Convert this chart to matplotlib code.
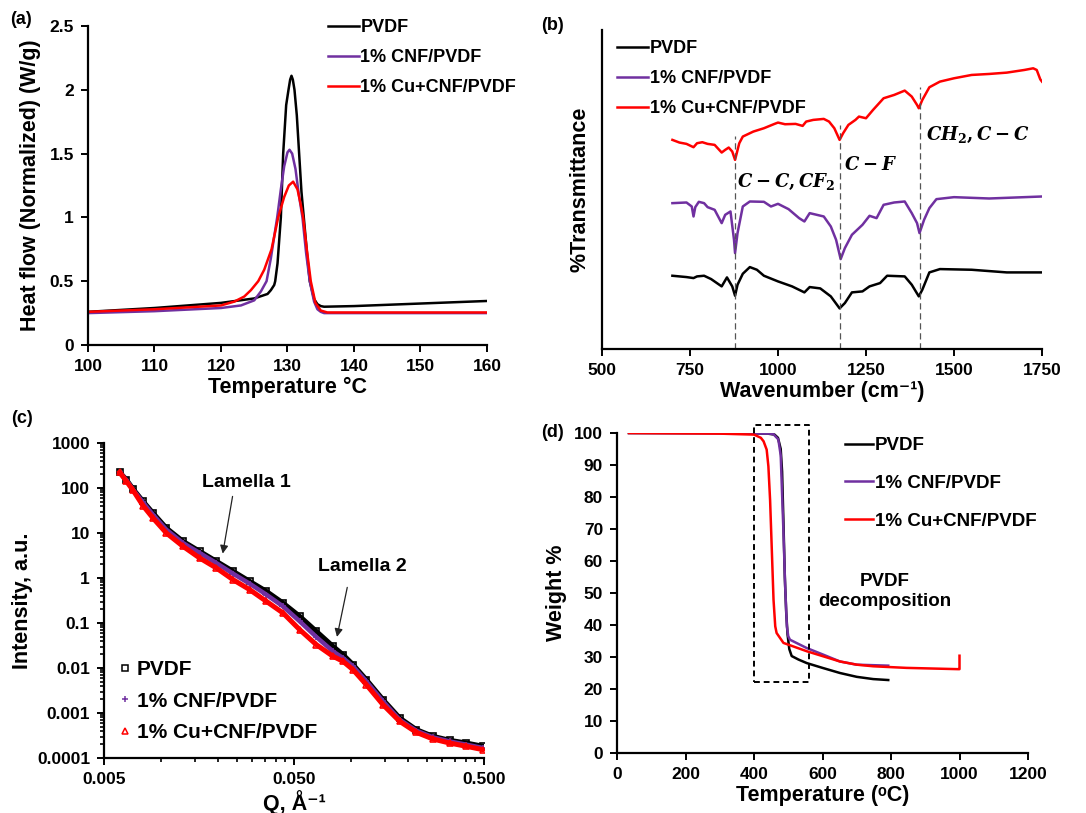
import numpy as np
import matplotlib
matplotlib.use("Agg")
import matplotlib.pyplot as plt
from matplotlib.lines import Line2D
from matplotlib.ticker import FixedLocator, NullFormatter

plt.rcParams['font.family'] = ['Liberation Sans', 'DejaVu Sans']
plt.rcParams['font.weight'] = 'bold'
plt.rcParams['axes.labelweight'] = 'bold'
plt.rcParams['mathtext.fontset'] = 'custom'
plt.rcParams['mathtext.it'] = 'DejaVu Serif:italic:bold'
plt.rcParams['mathtext.rm'] = 'DejaVu Serif:bold'

black = "#000000"
purple = "#7030A0"
red = "#FF0000"
labels = ["PVDF", "1% CNF/PVDF", "1% Cu+CNF/PVDF"]

# (a) DSC
dsc_T_pvdf = [100, 110, 120, 125, 127, 127.5, 128, 128.15, 128.5, 129, 129.35, 129.8, 130.15, 130.4, 130.6, 130.8,
              131.05, 131.4, 131.75, 132.1, 132.45, 133, 133.35, 134, 134.5, 135, 135.5, 140, 150, 160]
dsc_pvdf = [0.26, 0.29, 0.33, 0.365, 0.40, 0.43, 0.47, 0.50, 0.64, 1.0, 1.5, 1.88, 2.0, 2.08, 2.11, 2.08,
            2.0, 1.8, 1.5, 1.2, 1.0, 0.68, 0.5, 0.36, 0.32, 0.305, 0.30, 0.305, 0.325, 0.345]
dsc_T_cnf = [100, 110, 120, 123, 125, 126, 126.85, 127.5, 128, 128.45, 129, 129.5, 130, 130.3, 130.7, 131.2,
             131.7, 132.25, 132.8, 133.35, 134, 134.5, 135, 135.5, 145, 160]
dsc_cnf = [0.25, 0.265, 0.29, 0.31, 0.35, 0.42, 0.5, 0.68, 0.85, 1.0, 1.22, 1.4, 1.51, 1.53, 1.5, 1.38,
           1.18, 1.0, 0.72, 0.5, 0.34, 0.28, 0.26, 0.25, 0.25, 0.25]
dsc_T_cu = [100, 110, 120, 122, 123.5, 124.5, 125.6, 126.5, 127.6, 128.6, 129.5, 130.2, 130.85, 131.5, 132,
            132.35, 132.9, 133.5, 134.2, 135, 136, 145, 160]
dsc_cu = [0.26, 0.28, 0.31, 0.34, 0.38, 0.43, 0.5, 0.59, 0.75, 1.0, 1.16, 1.25, 1.28, 1.22, 1.1,
          1.0, 0.75, 0.5, 0.33, 0.27, 0.255, 0.255, 0.255]

# (b) FTIR (arbitrary transmittance units)
ir_x_cu = [700, 720, 740, 760, 770, 785, 800, 820, 840, 850, 860, 870, 878, 890, 900, 930, 960, 990, 1000, 1020,
           1050, 1070, 1080, 1100, 1130, 1145, 1160, 1175, 1185, 1200, 1220, 1230, 1250, 1270, 1300, 1330, 1360,
           1380, 1395, 1400, 1410, 1430, 1460, 1500, 1550, 1600, 1650, 1700, 1725, 1735, 1745, 1750]
ir_cu = [62.8, 62.0, 61.6, 60.6, 61.8, 62.1, 61.6, 61.3, 59.0, 59.8, 60.5, 59.3, 56.8, 61.8, 63.8, 65.3, 66.3, 67.6,
         68.0, 67.5, 67.6, 67.0, 68.3, 68.8, 69.1, 68.3, 66.3, 62.8, 64.8, 67.3, 68.8, 69.8, 69.3, 71.8, 75.3, 76.3,
         77.6, 75.8, 73.3, 72.3, 74.8, 78.6, 80.3, 81.3, 82.3, 82.6, 83.0, 83.8, 84.3, 83.8, 81.0, 80.3]
ir_x_cnf = [700, 740, 755, 760, 765, 775, 790, 800, 820, 840, 850, 865, 875, 878, 885, 900, 920, 960, 980, 1000,
            1030, 1060, 1075, 1090, 1130, 1150, 1165, 1178, 1190, 1210, 1240, 1260, 1280, 1300, 1330, 1360, 1380,
            1395, 1402, 1415, 1430, 1450, 1500, 1600, 1700, 1750]
ir_cnf = [43.8, 44.0, 42.8, 39.8, 42.6, 44.2, 43.8, 42.6, 41.8, 37.8, 40.3, 41.3, 32.8, 28.8, 34.8, 42.8, 44.3, 44.2,
          42.8, 43.6, 42.0, 39.3, 38.3, 40.8, 39.8, 36.8, 32.8, 27.0, 30.3, 34.3, 37.3, 40.0, 39.3, 43.3, 44.0, 44.3,
          40.8, 37.8, 34.8, 38.8, 42.3, 45.0, 45.6, 45.2, 45.6, 45.8]
ir_x_pvdf = [700, 740, 760, 770, 790, 810, 840, 855, 870, 878, 885, 900, 920, 940, 960, 1000, 1040, 1075, 1090,
             1120, 1150, 1175, 1190, 1210, 1240, 1260, 1290, 1310, 1360, 1380, 1400, 1410, 1430, 1460, 1550, 1650, 1750]
ir_pvdf = [22.0, 21.6, 21.3, 21.8, 22.0, 21.0, 18.8, 21.5, 18.8, 16.0, 19.3, 22.6, 24.6, 23.8, 22.0, 20.3, 18.8,
           17.0, 18.6, 18.2, 15.8, 12.2, 13.8, 17.0, 17.3, 18.8, 19.8, 22.0, 21.8, 19.3, 15.8, 17.8, 23.0, 24.0,
           23.8, 23.0, 23.0]
ir_peaks = [878, 1176, 1403]
ir_peak_tops = [64.0, 67.3, 78.6]

# (c) SAXS
q_vals = [0.00605, 0.00656, 0.00711, 0.00802, 0.00905, 0.01064, 0.01302, 0.01594, 0.01951, 0.02388, 0.02922,
          0.03576, 0.04376, 0.05356, 0.06555, 0.0802, 0.0905, 0.1022, 0.1201, 0.1470, 0.1799, 0.2202, 0.2695,
          0.3298, 0.4036, 0.494]
saxs_pvdf = [223, 153, 95, 50.6, 27.8, 12.9, 6.53, 3.91, 2.35, 1.41, 0.843, 0.506, 0.278, 0.141, 0.0653, 0.0303,
             0.0198, 0.0119, 0.00551, 0.00198, 0.000774, 0.000427, 0.000303, 0.000247, 0.000215, 0.000182]
saxs_cnf = [223, 150, 91.8, 48, 25.6, 11.9, 6.0, 3.6, 2.15, 1.25, 0.748, 0.427, 0.234, 0.109, 0.0489, 0.0234,
            0.0167, 0.0109, 0.00506, 0.00182, 0.000711, 0.000405, 0.000288, 0.000234, 0.000198, 0.000167]
saxs_cu = [223, 141, 88.8, 40.5, 21.5, 10.0, 5.06, 2.78, 1.67, 0.918, 0.551, 0.303, 0.167, 0.0711, 0.0330, 0.0182,
           0.0141, 0.00918, 0.00427, 0.00153, 0.000653, 0.000372, 0.000264, 0.000215, 0.000182, 0.000153]

# (d) TGA
tga_T_pvdf = [35, 300, 440, 460, 470, 478, 482, 486, 490, 494, 498, 503, 510, 530, 554, 600, 651, 700, 748, 792]
tga_pvdf = [100, 100, 99.8, 99.5, 98.5, 95, 88, 72, 55, 44, 37, 32.5, 30.3, 29.2, 28.1, 26.6, 25.0, 23.8, 23.1, 22.8]
tga_T_cnf = [35, 300, 447, 457, 471, 478, 481, 486, 491, 496, 500, 505, 554, 603, 651, 700, 792]
tga_cnf = [100, 99.9, 99.8, 99.6, 98, 93, 84, 69, 52, 39.6, 36.5, 35.4, 32.8, 30.7, 28.6, 27.6, 27.3]
tga_T_cu = [35, 300, 400, 420, 428, 437, 442, 447, 452, 457, 462, 466, 486, 554, 651, 700, 748, 845, 996, 1000, 1000]
tga_cu = [100, 99.8, 99.5, 98.5, 97.4, 94.8, 89.6, 79, 63.5, 47.9, 39.6, 37.5, 34.4, 31.8, 28.6, 27.6, 27.1, 26.6,
          26.2, 26.2, 30.4]

W, H = 1086, 813
fig = plt.figure(figsize=(W / 100, H / 100), dpi=100)


def px_axes(left, top, right, bottom):
    return fig.add_axes([left / W, 1 - bottom / H, (right - left) / W, (bottom - top) / H])


def style(ax):
    for s in ["top", "right"]:
        ax.spines[s].set_visible(False)
    for s in ["left", "bottom"]:
        ax.spines[s].set_linewidth(1.6)
    ax.tick_params(which="major", direction="out", length=5, width=1.4, labelsize=12.5, pad=5)
    ax.tick_params(which="minor", direction="out", length=3, width=1.2)


lw = 1.8
label_fs = 15.5
panel_fs = 13

# ---- (a)
ax = px_axes(88, 26, 487, 345)
style(ax)
ax.plot(dsc_T_pvdf, dsc_pvdf, color=black, lw=lw, label=labels[0])
ax.plot(dsc_T_cnf, dsc_cnf, color=purple, lw=lw, label=labels[1])
ax.plot(dsc_T_cu, dsc_cu, color=red, lw=lw, label=labels[2])
ax.set_xlim(100, 160)
ax.set_ylim(0, 2.5)
ax.set_xticks(range(100, 161, 10))
ax.set_yticks([0, 0.5, 1, 1.5, 2, 2.5])
ax.set_yticklabels(["0", "0.5", "1", "1.5", "2", "2.5"])
ax.set_xlabel("Temperature °C", fontsize=label_fs, labelpad=2)
ax.set_ylabel("Heat flow (Normalized) (W/g)", fontsize=label_fs, labelpad=6)
ax.legend(loc="upper left", bbox_to_anchor=(328 / W, 1 - 19 / H), bbox_transform=fig.transFigure,
          frameon=False, fontsize=13, handlelength=1.7, handletextpad=0.1, labelspacing=0.72, borderpad=0,
          borderaxespad=0)
fig.text(21 / W, 1 - 20 / H, "(a)", fontsize=panel_fs, ha="center", va="center")

# ---- (b)
ax = px_axes(602, 30, 1042, 349)
style(ax)
ax.plot(ir_x_pvdf, ir_pvdf, color=black, lw=lw, label=labels[0])
ax.plot(ir_x_cnf, ir_cnf, color=purple, lw=lw, label=labels[1])
ax.plot(ir_x_cu, ir_cu, color=red, lw=lw, label=labels[2])
for xp, top in zip(ir_peaks, ir_peak_tops):
    ax.plot([xp, xp], [0, top], color="#555555", lw=0.9, ls=(0, (5, 3)))
ax.set_xlim(500, 1750)
ax.set_ylim(0, 95.8)
ax.set_xticks(range(500, 1751, 250))
ax.set_yticks([])
ax.set_xlabel("Wavenumber (cm⁻¹)", fontsize=label_fs, labelpad=2)
ax.set_ylabel("%Transmittance", fontsize=label_fs, labelpad=8)
ax.text(884, 50.3, r"$C-C,CF_2$", fontsize=13, ha="left", va="center")
ax.text(1188, 55.3, r"$C-F$", fontsize=13, ha="left", va="center")
ax.text(1421, 64.3, r"$CH_2,C-C$", fontsize=13, ha="left", va="center")
ax.legend(loc="upper left", bbox_to_anchor=(617 / W, 1 - 40 / H), bbox_transform=fig.transFigure,
          frameon=False, fontsize=13, handlelength=1.7, handletextpad=0.1, labelspacing=0.72, borderpad=0,
          borderaxespad=0)
fig.text(553 / W, 1 - 25 / H, "(b)", fontsize=panel_fs, ha="center", va="center")

# ---- (c)
ax = px_axes(104, 443, 484, 758)
style(ax)
ax.plot(q_vals, saxs_pvdf, color=black, lw=3.6, marker="s", ms=5, mfc="none", mew=1.2)
ax.plot(q_vals, saxs_cnf, color=purple, lw=3.2, marker="+", ms=5, mew=1.2)
ax.plot(q_vals, saxs_cu, color=red, lw=3.6, marker="^", ms=5, mfc="none", mew=1.2)
ax.set_xscale("log")
ax.set_yscale("log")
ax.set_xlim(0.005, 0.5)
ax.set_ylim(1e-4, 1e3)
ax.xaxis.set_major_locator(FixedLocator([0.005, 0.05, 0.5]))
ax.set_xticklabels(["0.005", "0.050", "0.500"])
ax.xaxis.set_minor_locator(FixedLocator([0.005 * k for k in range(2, 10)] + [0.05 * k for k in range(2, 10)]))
ax.xaxis.set_minor_formatter(NullFormatter())
ax.set_yticks([1e-4, 1e-3, 1e-2, 1e-1, 1, 10, 100, 1000])
ax.set_yticklabels(["0.0001", "0.001", "0.01", "0.1", "1", "10", "100", "1000"])
ax.yaxis.set_minor_formatter(NullFormatter())
ax.set_xlabel("Q, Å⁻¹", fontsize=label_fs, labelpad=2)
ax.set_ylabel("Intensity, a.u.", fontsize=label_fs, labelpad=3)
ax.annotate("", xy=(0.02096, 3.03), xytext=(0.02388, 74.8),
            arrowprops=dict(arrowstyle="-|>", color="#222222", lw=0.9, mutation_scale=12))
ax.text(0.0281, 134, "Lamella 1", fontsize=14, ha="center", va="center")
ax.annotate("", xy=(0.0836, 0.0427), xytext=(0.096, 0.711),
            arrowprops=dict(arrowstyle="-|>", color="#222222", lw=0.9, mutation_scale=12))
ax.text(0.1146, 1.82, "Lamella 2", fontsize=14, ha="center", va="center")
handles = [Line2D([], [], ls="none", marker="s", ms=4, mfc="none", mec=black, mew=1.1),
           Line2D([], [], ls="none", marker="+", ms=4, mec=purple, mew=1.1),
           Line2D([], [], ls="none", marker="^", ms=4, mfc="none", mec=red, mew=1.1)]
ax.legend(handles, labels, loc="upper left", bbox_to_anchor=(119 / W, 1 - 660 / H),
          bbox_transform=fig.transFigure, frameon=False, fontsize=15, handlelength=0.6, handletextpad=0.25,
          labelspacing=0.6, borderpad=0, borderaxespad=0)
fig.text(22 / W, 1 - 418 / H, "(c)", fontsize=panel_fs, ha="center", va="center")

# ---- (d)
ax = px_axes(617, 433, 1028, 753)
style(ax)
ax.plot(tga_T_pvdf, tga_pvdf, color=black, lw=lw, label=labels[0])
ax.plot(tga_T_cnf, tga_cnf, color=purple, lw=lw, label=labels[1])
ax.plot(tga_T_cu, tga_cu, color=red, lw=lw, label=labels[2])
ax.plot([400, 560, 560, 400, 400], [22.1, 22.1, 102.6, 102.6, 22.1], color=black, lw=1.4,
        ls=(0, (3, 2)), clip_on=False)
ax.set_xlim(0, 1200)
ax.set_ylim(0, 100)
ax.set_xticks(range(0, 1201, 200))
ax.set_yticks(range(0, 101, 10))
ax.set_xlabel("Temperature (ᵒC)", fontsize=label_fs, labelpad=2)
ax.set_ylabel("Weight %", fontsize=label_fs, labelpad=5)
ax.text(782, 50.5, "PVDF\ndecomposition", fontsize=13.5, ha="center", va="center", linespacing=1.25)
ax.legend(loc="upper left", bbox_to_anchor=(845 / W, 1 - 437 / H), bbox_transform=fig.transFigure,
          frameon=False, fontsize=13.5, handlelength=1.5, handletextpad=0.1, labelspacing=1.1, borderpad=0,
          borderaxespad=0)
fig.text(553 / W, 1 - 432 / H, "(d)", fontsize=panel_fs, ha="center", va="center")

fig.savefig("out.png", dpi=100)
